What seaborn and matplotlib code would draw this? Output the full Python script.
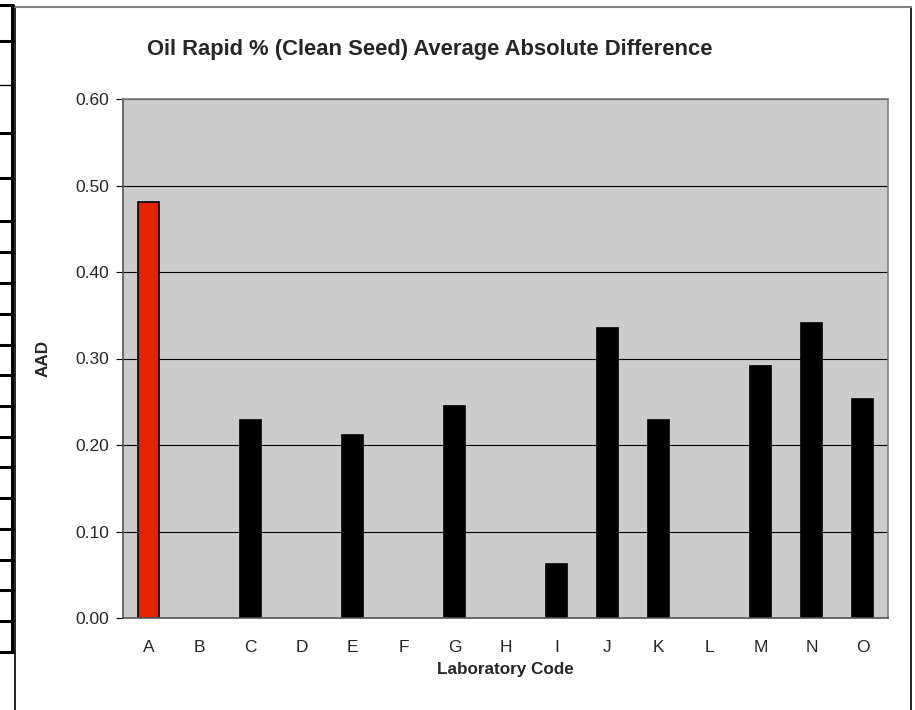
import matplotlib
matplotlib.use("Agg")
import matplotlib.pyplot as plt
from matplotlib.lines import Line2D
import seaborn as sns
import pandas as pd
import numpy as np

labs = ["A", "B", "C", "D", "E", "F", "G", "H", "I", "J", "K", "L", "M", "N", "O"]
aad = [0.481, np.nan, 0.229, np.nan, 0.211, np.nan, 0.245, np.nan, 0.063,
       0.335, 0.229, np.nan, 0.291, 0.341, 0.253]
highlight = ["A"]

title = "Oil Rapid % (Clean Seed) Average Absolute Difference"
xlabel = "Laboratory Code"
ylabel = "AAD"
yticks = [0.0, 0.1, 0.2, 0.3, 0.4, 0.5, 0.6]

df = pd.DataFrame({"lab": labs, "aad": aad})
palette = {l: ("#E32400" if l in highlight else "#000000") for l in labs}

sns.set_style("white")
plt.rcParams["font.family"] = ["Liberation Sans", "DejaVu Sans"]

W, H = 915, 710
fig = plt.figure(figsize=(W / 100, H / 100), dpi=100)
ax = fig.add_axes([123 / W, 1 - 618 / H, (888 - 123) / W, (618 - 99) / H])

sns.barplot(data=df, x="lab", y="aad", hue="lab", order=labs, palette=palette,
            legend=False, width=0.42, edgecolor="black", linewidth=1.2,
            saturation=1, ax=ax)

ax.set_facecolor("#CCCCCC")
ax.set_xlim(-0.5, len(labs) - 0.5)
ax.set_ylim(0, 0.6)
ax.set_yticks(yticks)
ax.set_yticklabels([f"{v:.2f}" for v in yticks], fontsize=12.5)
ax.yaxis.grid(True, color="#000000", linewidth=0.8)
ax.set_axisbelow(True)
ax.set_xticks(range(len(labs)))
ax.set_xticklabels(labs, fontsize=12.5)
ax.set_xticks(np.arange(-0.5, len(labs), 1.0), minor=True)
ax.tick_params(axis="x", which="major", length=0, pad=16)
ax.tick_params(axis="x", which="minor", length=5, width=0.8, color="black", direction="out")
ax.tick_params(axis="y", length=5, width=0.8, color="black", direction="out", left=True, pad=5)
for s in ["top", "right"]:
    ax.spines[s].set_color("#808080")
    ax.spines[s].set_linewidth(1.2)
for s in ["left", "bottom"]:
    ax.spines[s].set_color("#555555")
    ax.spines[s].set_linewidth(1.2)

ax.set_xlabel(xlabel, fontsize=12.3, fontweight="bold", labelpad=5)
ax.set_ylabel(ylabel, fontsize=12.3, fontweight="bold", labelpad=18)
fig.text(430 / W, 1 - 50 / H, title, fontsize=15.8, fontweight="bold", ha="center", va="center")

# outer chart frame
fig.add_artist(Line2D([15 / W, 15 / W], [0, 1 - 7 / H], color="black", lw=1.2))
fig.add_artist(Line2D([911 / W, 911 / W], [0, 1 - 7 / H], color="black", lw=1.2))
fig.add_artist(Line2D([15 / W, 911 / W], [1 - 7 / H, 1 - 7 / H], color="#808080", lw=1.5))

# left-hand table edge
fig.add_artist(Line2D([12 / W, 12 / W], [1 - 5 / H, 1 - 652 / H], color="black", lw=2.2))
for yy in [5, 41, 85, 133, 178, 221, 252, 283, 314, 345, 375, 406, 437, 467, 498,
           529, 560, 590, 621, 652]:
    fig.add_artist(Line2D([0, 13 / W], [1 - yy / H, 1 - yy / H], color="black",
                          lw=(1.0 if yy == 85 else 2.2)))

fig.savefig("out.png", dpi=100)
